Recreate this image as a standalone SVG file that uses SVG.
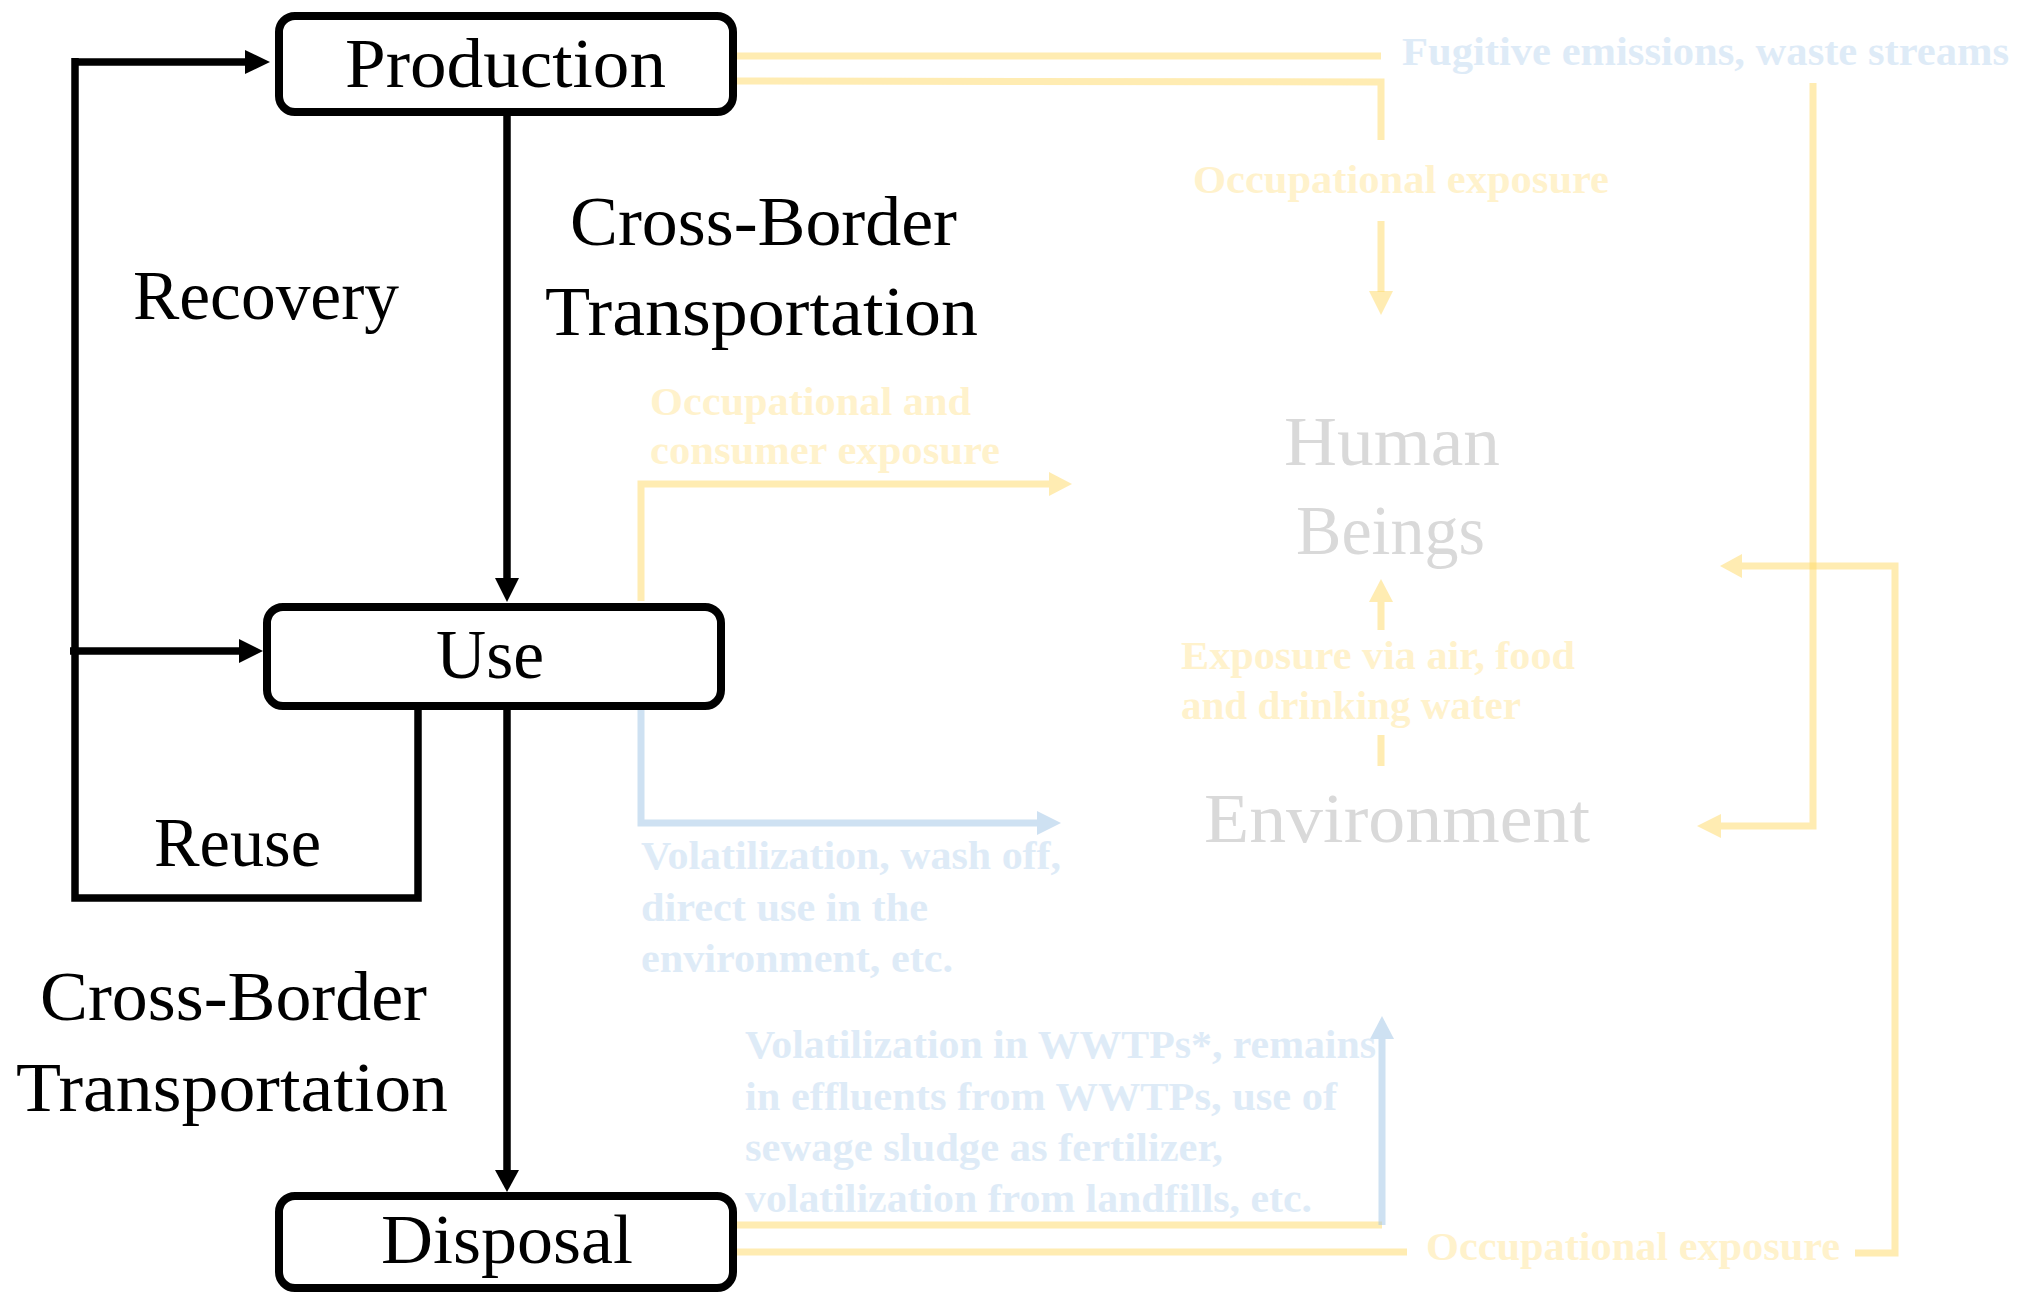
<svg xmlns="http://www.w3.org/2000/svg" width="2021" height="1295" viewBox="0 0 2021 1295">
<defs>
<style>
.box{fill:#fff;stroke:#000;stroke-width:8}
.main{font-family:"Liberation Serif","Times New Roman",serif;font-size:70px;fill:#000}
.blk{fill:none;stroke:#000;stroke-width:7.5}
.blkh{fill:#000}
.yl{fill:none;stroke:#FFD966;stroke-width:7;stroke-opacity:0.5}
.ylh{fill:#FFD966;fill-opacity:0.5}
.bl{fill:none;stroke:#9DC3E6;stroke-width:7;stroke-opacity:0.5}
.blh{fill:#9DC3E6;fill-opacity:0.5}
.ytx{font-family:"Liberation Serif","Times New Roman",serif;font-size:40px;font-weight:bold;fill:#FFF2CC}
.btx{font-family:"Liberation Serif","Times New Roman",serif;font-size:40px;font-weight:bold;fill:#DEEBF7}
.gtx{font-family:"Liberation Serif","Times New Roman",serif;font-size:70px;fill:#D9D9D9}
</style>
</defs>
<rect width="2021" height="1295" fill="#fff"/>
<g id="connectors">
<line class="blk" x1="507" y1="116" x2="507" y2="580"/>
<polygon class="blkh" points="495,578 519,578 507,602"/>
<line class="blk" x1="507" y1="710" x2="507" y2="1174"/>
<polygon class="blkh" points="495,1170 519,1170 507,1192"/>
<polyline class="blk" points="75,62 247,62"/>
<polygon class="blkh" points="245,50 245,74 270,62"/>
<polyline class="blk" points="75,58 75,898 418,898 418,710"/>
<line class="blk" x1="70" y1="651" x2="241" y2="651"/>
<polygon class="blkh" points="239,639 239,663 263,651"/>
<line class="yl" x1="737" y1="56" x2="1381" y2="56"/>
<polyline class="yl" points="737,81 1381,82 1381,140"/>
<line class="yl" x1="1381" y1="221" x2="1381" y2="292"/>
<polygon class="ylh" points="1369,291 1393,291 1381,315"/>
<polyline class="yl" points="1813,83 1813,826 1721,826"/>
<polygon class="ylh" points="1721,814 1721,838 1697,826"/>
<polyline class="yl" points="641,601 641,484 1049,484"/>
<polygon class="ylh" points="1049,472 1049,496 1072,484"/>
<line class="yl" x1="1381" y1="766" x2="1381" y2="735"/>
<line class="yl" x1="1381" y1="630" x2="1381" y2="602"/>
<polygon class="ylh" points="1369,602 1393,602 1381,579"/>
<line class="yl" x1="737" y1="1225" x2="1382" y2="1225"/>
<line class="yl" x1="737" y1="1252" x2="1407" y2="1252"/>
<polyline class="yl" points="1855,1253 1895,1253 1895,566 1742,566"/>
<polygon class="ylh" points="1742,554 1742,578 1720,566"/>
<polyline class="bl" points="641,710 641,823 1037,823"/>
<polygon class="blh" points="1037,811 1037,835 1061,823"/>
<line class="bl" x1="1382" y1="1225" x2="1382" y2="1039"/>
<polygon class="blh" points="1370,1039 1394,1039 1382,1016"/>
</g>
<g id="production">
<rect class="box" x="279" y="16" width="454" height="96" rx="16"/>
<text class="main" x="345" y="87" textLength="321" lengthAdjust="spacingAndGlyphs">Production</text>
</g>
<g id="use">
<rect class="box" x="267" y="607" width="454" height="99" rx="16"/>
<text class="main" x="436" y="678" textLength="108" lengthAdjust="spacingAndGlyphs">Use</text>
</g>
<g id="disposal">
<rect class="box" x="279" y="1196" width="454" height="92" rx="16"/>
<text class="main" x="381" y="1263" textLength="252" lengthAdjust="spacingAndGlyphs">Disposal</text>
</g>
<g id="labels">
<text class="main" x="133" y="319" textLength="266" lengthAdjust="spacingAndGlyphs">Recovery</text>
<text class="main" x="570" y="245" textLength="387" lengthAdjust="spacingAndGlyphs">Cross-Border</text>
<text class="main" x="545" y="335" textLength="433" lengthAdjust="spacingAndGlyphs">Transportation</text>
<text class="main" x="154" y="866" textLength="167" lengthAdjust="spacingAndGlyphs">Reuse</text>
<text class="main" x="40" y="1020" textLength="387" lengthAdjust="spacingAndGlyphs">Cross-Border</text>
<text class="main" x="16" y="1111" textLength="432" lengthAdjust="spacingAndGlyphs">Transportation</text>
</g>
<g id="human-beings">
<text class="gtx" x="1284" y="465" textLength="216" lengthAdjust="spacingAndGlyphs">Human</text>
<text class="gtx" x="1296" y="554" textLength="189" lengthAdjust="spacingAndGlyphs">Beings</text>
</g>
<g id="environment">
<text class="gtx" x="1204" y="842" textLength="386" lengthAdjust="spacingAndGlyphs">Environment</text>
</g>
<g id="flow-labels">
<text class="btx" x="1402" y="65" textLength="607" lengthAdjust="spacingAndGlyphs">Fugitive emissions, waste streams</text>
<text class="ytx" x="1193" y="193" textLength="416" lengthAdjust="spacingAndGlyphs">Occupational exposure</text>
<text class="ytx" x="650" y="415" textLength="321" lengthAdjust="spacingAndGlyphs">Occupational and</text>
<text class="ytx" x="650" y="464" textLength="350" lengthAdjust="spacingAndGlyphs">consumer exposure</text>
<text class="ytx" x="1181" y="669" textLength="394" lengthAdjust="spacingAndGlyphs">Exposure via air, food</text>
<text class="ytx" x="1181" y="719" textLength="340" lengthAdjust="spacingAndGlyphs">and drinking water</text>
<text class="btx" x="641" y="869" textLength="420" lengthAdjust="spacingAndGlyphs">Volatilization, wash off,</text>
<text class="btx" x="641" y="921" textLength="287" lengthAdjust="spacingAndGlyphs">direct use in the</text>
<text class="btx" x="641" y="972" textLength="312" lengthAdjust="spacingAndGlyphs">environment, etc.</text>
<text class="btx" x="745" y="1058" textLength="631" lengthAdjust="spacingAndGlyphs">Volatilization in WWTPs*, remains</text>
<text class="btx" x="745" y="1110" textLength="592" lengthAdjust="spacingAndGlyphs">in effluents from WWTPs, use of</text>
<text class="btx" x="745" y="1161" textLength="478" lengthAdjust="spacingAndGlyphs">sewage sludge as fertilizer,</text>
<text class="btx" x="745" y="1212" textLength="567" lengthAdjust="spacingAndGlyphs">volatilization from landfills, etc.</text>
<text class="ytx" x="1426" y="1260" textLength="414" lengthAdjust="spacingAndGlyphs">Occupational exposure</text>
</g>
</svg>
